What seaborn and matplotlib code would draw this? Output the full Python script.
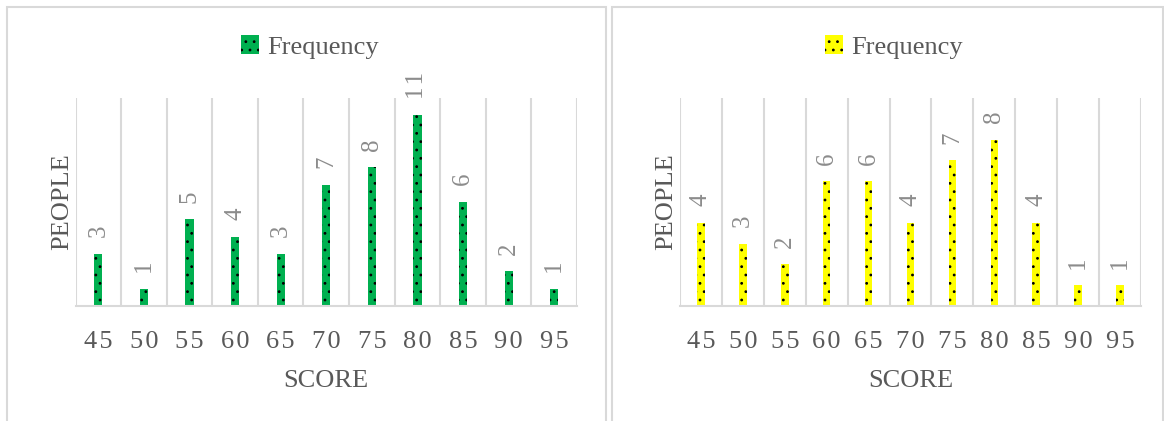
import numpy as np
import matplotlib
matplotlib.use("Agg")
import matplotlib.pyplot as plt
from matplotlib.patches import Rectangle
import seaborn as sns

# ── data ──────────────────────────────────────────────────────────────────────
scores = [45, 50, 55, 60, 65, 70, 75, 80, 85, 90, 95]
freq_left = [3, 1, 5, 4, 3, 7, 8, 11, 6, 2, 1]
freq_right = [4, 3, 2, 6, 6, 4, 7, 8, 4, 1, 1]
series_name = "Frequency"
x_title = "SCORE"
y_title = "PEOPLE"

GREEN = "#00B050"
YELLOW = "#FFFF00"
TXT = "#595959"
LBL = "#8c8c8c"
GRID = "#d9d9d9"
HAIR = "\u200a"  # Excel-style letter spacing on the digits

sns.set_theme(style="white")
plt.rcParams["font.family"] = ["Liberation Serif", "DejaVu Serif"]
plt.rcParams["hatch.linewidth"] = 0.8

fig = plt.figure(figsize=(11.64, 4.21), dpi=100)
W, H = 1164, 421

# panel frames (chart-area borders)
for x0, x1 in [(7, 606), (612, 1163)]:
    fig.patches.append(Rectangle((x0 / W, -0.02), (x1 - x0) / W, 1.02 - 7 / H,
                                 transform=fig.transFigure, fill=False,
                                 edgecolor=GRID, lw=1.5))

panels = [
    (freq_left, GREEN, 12, [75.5 / W, 1 - 306 / H, 501.5 / W, 208 / H], 310),
    (freq_right, YELLOW, 10, [680 / W, 1 - 306 / H, 461 / W, 208 / H], 894),
]

for freq, col, ymax, rect, legx in panels:
    ax = fig.add_axes(rect)
    sns.barplot(x=scores, y=freq, color=col, saturation=1, width=0.18,
                hatch="..", edgecolor="black", linewidth=0, label=series_name,
                ax=ax)
    ax.set_ylim(0, ymax)
    ax.set_xlim(-0.5, len(scores) - 0.5)
    ax.set_yticks([])
    ax.set_xticks(range(len(scores)))
    ax.set_xticklabels([HAIR.join(str(s)) for s in scores], fontsize=19,
                       color=TXT)
    ax.tick_params(axis="x", length=0, pad=18)
    ax.set_xticks(np.arange(-0.5, len(scores), 1), minor=True)
    ax.tick_params(axis="x", which="minor", length=0)
    ax.grid(which="minor", axis="x", color=GRID, lw=1.5)
    ax.grid(which="major", visible=False)
    for s in ["top", "right", "left"]:
        ax.spines[s].set_visible(False)
    ax.spines["bottom"].set_color(GRID)
    ax.spines["bottom"].set_linewidth(1.5)
    ax.set_xlabel(x_title, fontsize=19, color=TXT, labelpad=12)
    ax.set_ylabel(y_title, fontsize=19, color=TXT, labelpad=2)
    ax.bar_label(ax.containers[0],
                 labels=[HAIR.join(str(v)) for v in freq],
                 rotation=90, padding=12, fontsize=18, color=LBL)
    ax.legend(loc="center", bbox_to_anchor=(legx / W, 1 - 47 / H),
              bbox_transform=fig.transFigure, frameon=False, fontsize=19,
              handlelength=0.7, handleheight=0.7, handletextpad=0.3,
              labelcolor=TXT)

fig.savefig("out.png", dpi=100)
